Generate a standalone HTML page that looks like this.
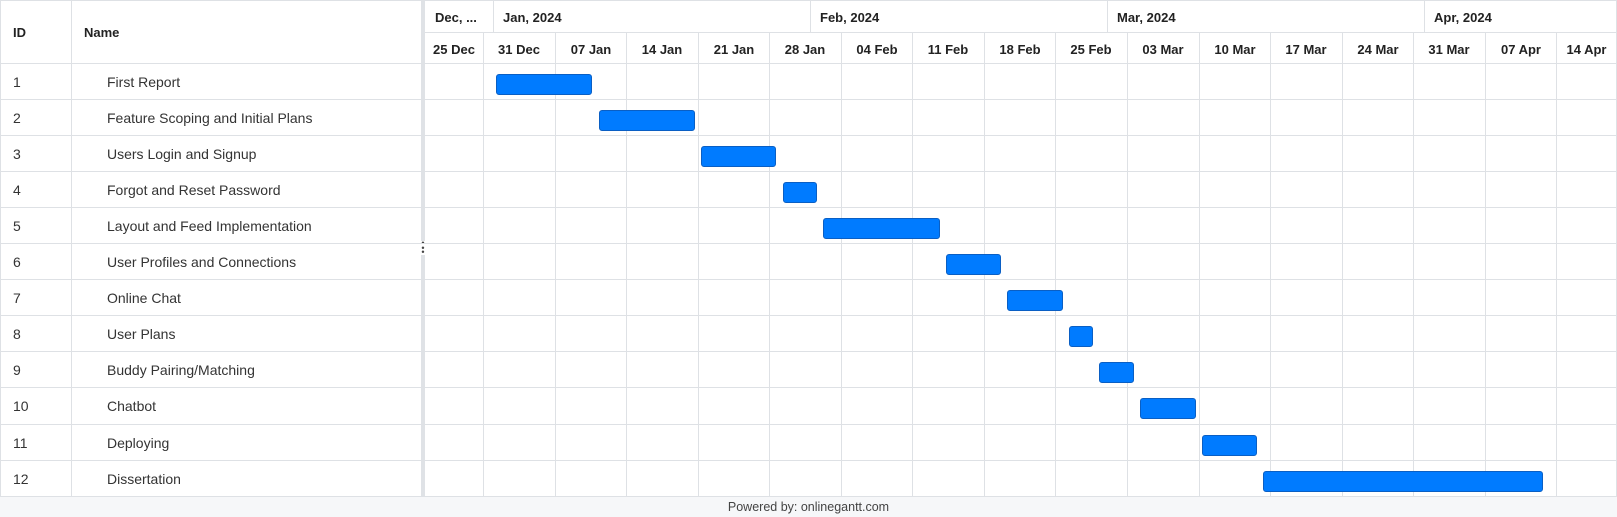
<!DOCTYPE html>
<html><head><meta charset="utf-8">
<style>
body{margin:0;width:1617px;height:517px;overflow:hidden;background:#fff;font-family:"Liberation Sans",Arial,sans-serif;color:#333;}
#root{position:relative;width:1617px;height:517px;}
.abs{position:absolute;box-sizing:border-box;}
.hl{position:absolute;height:1px;background:#dee1e5;}
.vl{position:absolute;width:1px;background:#dee1e5;}
.hd{font-weight:bold;font-size:13px;color:#222;}
.cell{font-size:14px;color:#333;}
.bar{position:absolute;background:#007bff;border:1px solid #0a5fc4;border-radius:3px;box-sizing:border-box;}
</style></head>
<body>
<div id="root">
  <div class="abs" style="left:0;top:0;width:421px;height:497px;"></div>
  <div class="abs hd" style="left:13px;top:25px;">ID</div>
  <div class="abs hd" style="left:84px;top:25px;">Name</div>
  <div class="abs" style="left:421px;top:0;width:4px;height:497px;background:#dfe2e6;"></div>
  <div class="abs" style="left:421px;top:241px;width:4px;height:14px;background:#fff;font-size:9px;line-height:4.5px;text-align:center;color:#444;">•<br>•<br>•</div>
  <div class="abs" style="left:0;top:496px;width:1617px;height:21px;background:#f6f7f9;border-top:1px solid #dee1e5;font-size:12.5px;text-align:center;line-height:20px;color:#444;">Powered by: onlinegantt.com</div>
</div>
<script>
const taskIds=[1,2,3,4,5,6,7,8,9,10,11,12];
const taskNames=["First Report","Feature Scoping and Initial Plans","Users Login and Signup","Forgot and Reset Password","Layout and Feed Implementation","User Profiles and Connections","Online Chat","User Plans","Buddy Pairing/Matching","Chatbot","Deploying","Dissertation"];
// start offsets in days from 31 Dec 2023, and end offsets (exclusive)
const taskStart=[1,11,21,29,33,45,51,57,60,64,70,76];
const taskEnd=[11,21,29,33,45,51,57,60,64,70,76,104];
const weekLabels=["25 Dec","31 Dec","07 Jan","14 Jan","21 Jan","28 Jan","04 Feb","11 Feb","18 Feb","25 Feb","03 Mar","10 Mar","17 Mar","24 Mar","31 Mar","07 Apr","14 Apr"];
const monthLabels=["Dec, ...","Jan, 2024","Feb, 2024","Mar, 2024","Apr, 2024"];
const monthStart=[-6,1,32,61,92];

const root=document.getElementById('root');
const X0=483, DAY=71.56/7, GL=425, GR=1617, HEAD=64, ROW=36.05;
function xd(d){return Math.max(GL, X0+d*DAY);}
function yr(i){return HEAD+i*ROW;}
function add(tag,cls,style,txt){const e=document.createElement(tag);if(cls)e.className=cls;e.style.cssText=style;if(txt!==undefined)e.textContent=txt;root.appendChild(e);return e;}

let e;
e=add('div','hl','left:0;top:0;width:1617px;');


e=add('div','vl','left:0;top:0;height:497px;');


e=add('div','vl','left:71px;top:0;height:497px;');


e=add('div','vl','left:1616px;top:0;height:497px;');


e=add('div','hl','left:425px;top:32px;width:1192px;');



for(let m=0;m<monthLabels.length;m++){
  const x=xd(monthStart[m]);
  if(m>0){
    e=add('div','vl','left:'+Math.round(x)+'px;top:0;height:32px;');
    
    
  }
  e=add('div','abs hd','left:'+Math.round(x+10)+'px;top:10px;',monthLabels[m]);
  
  
}
for(let w=0;w<weekLabels.length;w++){
  const s=xd((w-1)*7), en=Math.min(GR,xd(w*7));
  if(w>0){
    e=add('div','vl','left:'+Math.round(s)+'px;top:32px;height:465px;');
    
    
  }
  e=add('div','abs hd','left:'+Math.round(s)+'px;top:42px;width:'+Math.round(en-s)+'px;text-align:center;',weekLabels[w]);
  
  
}
for(let i=0;i<=taskIds.length;i++){
  e=add('div','hl','left:0;top:'+Math.round(yr(i)-1)+'px;width:1617px;');
  
  
}
for(let i=0;i<taskIds.length;i++){
  const y=yr(i);
  e=add('div','abs cell','left:13px;top:'+Math.round(y+10)+'px;',String(taskIds[i]));
  
  
  e=add('div','abs cell','left:107px;top:'+Math.round(y+10)+'px;',taskNames[i]);
  
  
  const x1=xd(taskStart[i])+3, x2=xd(taskEnd[i])-3;
  e=add('div','bar','left:'+x1.toFixed(1)+'px;top:'+Math.round(y+10)+'px;width:'+(x2-x1).toFixed(1)+'px;height:21px;');
  
  
}
</script>
</body></html>
